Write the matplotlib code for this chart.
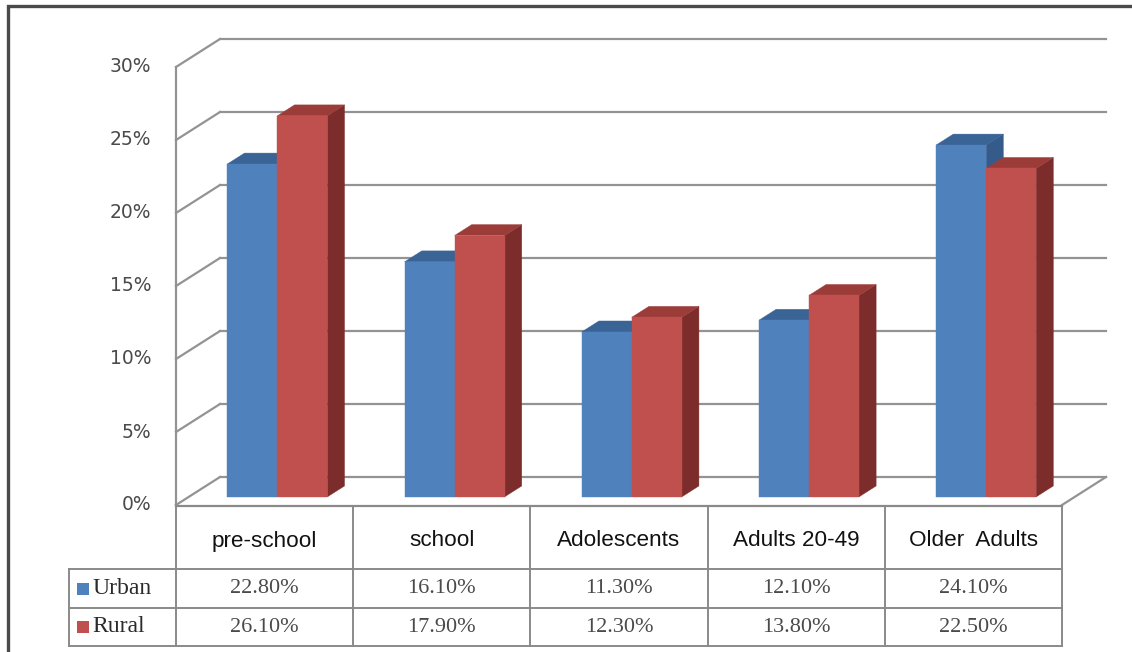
import matplotlib
matplotlib.use("Agg")
import matplotlib.pyplot as plt
from matplotlib.patches import Polygon, Rectangle
from matplotlib.transforms import blended_transform_factory

# ---- data -------------------------------------------------------------
categories = ["pre-school", "school", "Adolescents", "Adults 20-49", "Older  Adults"]
series_names = ["Urban", "Rural"]
urban = [22.8, 16.1, 11.3, 12.1, 24.1]
rural = [26.1, 17.9, 12.3, 13.8, 22.5]
y_ticks = [0, 5, 10, 15, 20, 25, 30]

# ---- styling ------------------------------------------------------------
front_colors = ["#4F81BD", "#C0504D"]
top_colors = ["#3A6396", "#9C3C39"]
side_colors = ["#355B8A", "#7C2D2B"]
grid_color = "#939393"
table_color = "#8A8A8A"
text_color = "#4A4A4A"

W, H = 1132, 652
fig = plt.figure(figsize=(W / 100, H / 100), dpi=100)

# pixel overlay for the frame and the data table
px = fig.add_axes([0, 0, 1, 1])
px.set_xlim(0, W)
px.set_ylim(H, 0)
px.axis("off")

# chart axes: x in category units, y in percent (front plane of the box)
x0, cat_w = 176.0, 177.2
y0, unit = 505.0, 14.6
ax = fig.add_axes([0, 0, 1, 1])
ax.patch.set_alpha(0)
ax.set_xlim(-x0 / cat_w, (W - x0) / cat_w)
ax.set_ylim((y0 - H) / unit, y0 / unit)
ax.axis("off")

n = len(categories)
ymax = y_ticks[-1]
DX, DY = 44.0 / cat_w, 28.0 / unit      # full depth of the box


def proj(x, v, d):
    return (x + d * DX, v + d * DY)


# back wall and side wall gridlines
for t in y_ticks:
    ax.plot(*zip(proj(0, t, 1), proj(n, t, 1)), color=grid_color, lw=1.6, zorder=1)
    ax.plot(*zip(proj(0, t, 0), proj(0, t, 1)), color=grid_color, lw=1.6, zorder=1)
# floor right edge and front left edge
ax.plot(*zip(proj(n, 0, 0), proj(n, 0, 1)), color=grid_color, lw=1.6, zorder=1)
ax.plot([0, 0], [ymax, 0], color=grid_color, lw=1.6, zorder=1)

# 3-D columns
bar_w = 50.0 / cat_w
d0, d1 = 0.29, 0.68
for i in range(n):
    for s, vals in enumerate([urban, rural]):
        v = vals[i]
        xl = i + 0.5 - bar_w + s * bar_w
        xr = xl + bar_w
        front = [proj(xl, 0, d0), proj(xr, 0, d0), proj(xr, v, d0), proj(xl, v, d0)]
        top = [proj(xl, v, d0), proj(xr, v, d0), proj(xr, v, d1), proj(xl, v, d1)]
        side = [proj(xr, 0, d0), proj(xr, 0, d1), proj(xr, v, d1), proj(xr, v, d0)]
        for poly, c in ((side, side_colors[s]), (top, top_colors[s]), (front, front_colors[s])):
            ax.add_patch(Polygon(poly, closed=True, facecolor=c, edgecolor=c,
                                 lw=0.3, zorder=3))

# y tick labels
for t in y_ticks:
    ax.text(-25.0 / cat_w, t, f"{t}%", ha="right", va="center",
            fontsize=13.5, family="DejaVu Sans", color=text_color)

# ---- data table ---------------------------------------------------------
T = blended_transform_factory(ax.transData, px.transData)
row_top, row_hdr, row_mid, row_bot = 506, 569, 608, 646
legend_left = 69

ax.plot([0, n], [row_top, row_top], transform=T, color=table_color, lw=1.6, zorder=2)
for yy in (row_hdr, row_mid, row_bot):
    px.plot([legend_left, x0 + n * cat_w], [yy, yy], color=table_color, lw=1.4)
for k in range(n + 1):
    ax.plot([k, k], [row_top, row_bot], transform=T, color=table_color, lw=1.4, zorder=2)
px.plot([legend_left, legend_left], [row_hdr, row_bot], color=table_color, lw=1.4)

for i, cat in enumerate(categories):
    ax.text(i + 0.5, 541, cat, transform=T, ha="center", va="center",
            fontsize=16.2, family="Liberation Sans", color="#111111")
    ax.text(i + 0.5, (row_hdr + row_mid) / 2, f"{urban[i]:.2f}%", transform=T,
            ha="center", va="center", fontsize=16, family="Liberation Serif",
            color=text_color)
    ax.text(i + 0.5, (row_mid + row_bot) / 2, f"{rural[i]:.2f}%", transform=T,
            ha="center", va="center", fontsize=16, family="Liberation Serif",
            color=text_color)

for s, name in enumerate(series_names):
    yc = (row_hdr + row_mid) / 2 if s == 0 else (row_mid + row_bot) / 2
    px.add_patch(Rectangle((77, yc - 6), 12, 12, facecolor=front_colors[s],
                           edgecolor="none"))
    px.text(92, yc, name, ha="left", va="center", fontsize=17,
            family="Liberation Serif", color="#2A2A2A")

# outer frame
px.plot([8, 8, W + 5], [H + 5, 6, 6], color="#4A4A4A", lw=2.4, solid_joinstyle="miter")

fig.savefig("out.png", dpi=100)
